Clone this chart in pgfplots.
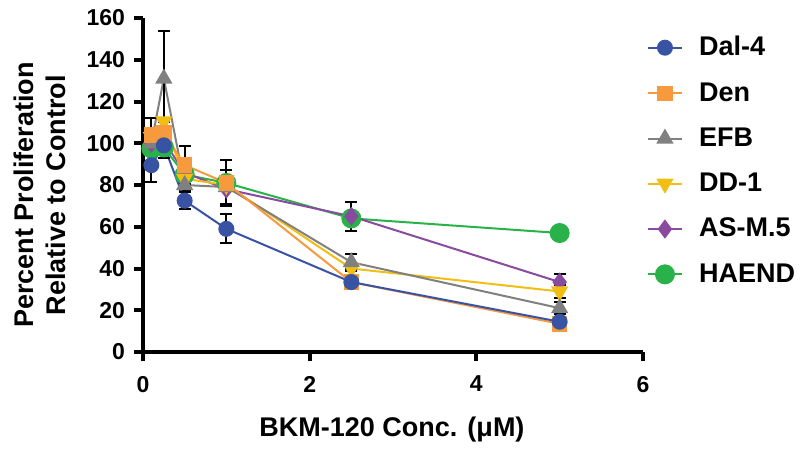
\documentclass[border=0pt]{standalone}
\usepackage{fontspec}
\setmainfont{Liberation Sans}
\usepackage{pgfplots}
\pgfplotsset{compat=1.18}

\definecolor{cdal}{RGB}{57,83,164}
\definecolor{cden}{RGB}{247,153,61}
\definecolor{cefb}{RGB}{128,128,128}
\definecolor{cdd}{RGB}{241,190,20}
\definecolor{cas}{RGB}{137,75,160}
\definecolor{chae}{RGB}{42,178,74}

\pgfplotsset{
  ebar/.style={
    error bars/.cd, y dir=both, y explicit,
    error bar style={black, line width=1pt},
    error mark options={rotate=90, black, mark size=3pt, line width=1pt},
  },
}

\begin{document}
\begin{tikzpicture}
\begin{axis}[
    name=main,
    at={(0,0)}, anchor=south west,
    width=250pt, height=167pt, scale only axis,
    xmin=0, xmax=6, ymin=0, ymax=160,
    xtick={0,2,4,6}, ytick={0,20,...,160},
    axis x line*=bottom, axis y line*=left,
    axis line style={line width=2pt, -},
    every tick/.style={black, line width=2pt},
    tick align=outside, xtick pos=bottom, ytick pos=left,
    major tick length=4.5pt,
    ticklabel style={font=\bfseries\fontsize{11.5}{12}\selectfont},
    xticklabel style={yshift=-4pt},
    yticklabel style={xshift=-1pt},
    /pgf/number format/assume math mode=true,
    xlabel={BKM-120 Conc. (μM)},
    ylabel={Percent Proliferation\\Relative to Control},
    label style={font=\bfseries\fontsize{13.5}{16}\selectfont, align=center},
    xlabel style={at={(axis description cs:0.498,0)}, anchor=center, yshift=-39pt},
    ylabel style={at={(axis description cs:-0.206,0.47)}, anchor=center},
    legend style={at={(axis description cs:0.995,0.97)}, anchor=north west, draw=none,
      font=\bfseries\fontsize{13.5}{14}\selectfont, row sep=7.8pt, fill=none,
      /tikz/every odd column/.append style={column sep=6pt}},
    legend cell align=left,
    reverse legend,
    every axis plot/.append style={line width=1pt},
    clip=false,
]
% drawn in reverse so that Dal-4 lies on top
\addplot[chae, mark=*, mark size=4.5pt, ebar] table[y error=e] {
x y e
0.1 97.5 3
0.25 98 0
0.5 85 0
1 81 0
2.5 64 0
5 57 0
};
\addlegendentry{HAEND}
\addplot[cas, mark=diamond*, mark size=4pt, ebar] table[y error=e] {
x y e
0.1 100 0
0.25 101 0
0.5 86 0
1 78 0
2.5 65 7
5 33.5 4
};
\addlegendentry{AS-M.5}
\addplot[cdd, mark=triangle*, mark options={rotate=180}, mark size=4pt, ebar] table[y error=e] {
x y e
0.1 103 0
0.25 110.5 0
0.5 83 0
1 80 0
2.5 40 0
5 29 3
};
\addlegendentry{DD-1}
\addplot[cefb, mark=triangle*, mark size=4pt, ebar] table[y error=e] {
x y e
0.1 100 4
0.25 131 23
0.5 80 3
1 79 8
2.5 43 4
5 21 3
};
\addlegendentry{EFB}
\addplot[cden, mark=square*, mark size=3.4pt, ebar] table[y error=e] {
x y e
0.1 104 8
0.25 105 5
0.5 89.5 9
1 81 11
2.5 33.5 3
5 13.5 2
};
\addlegendentry{Den}
\addplot[cdal, mark=*, mark size=3.5pt, ebar] table[y error=e] {
x y e
0.1 89.5 8
0.25 99 6
0.5 72.5 4
1 59 7
2.5 33.5 3
5 14.5 2
};
\addlegendentry{Dal-4}
\end{axis}
\pgfresetboundingbox
\path (-71.5pt,-49pt) rectangle (329.5pt,176pt);
\end{tikzpicture}
\end{document}
